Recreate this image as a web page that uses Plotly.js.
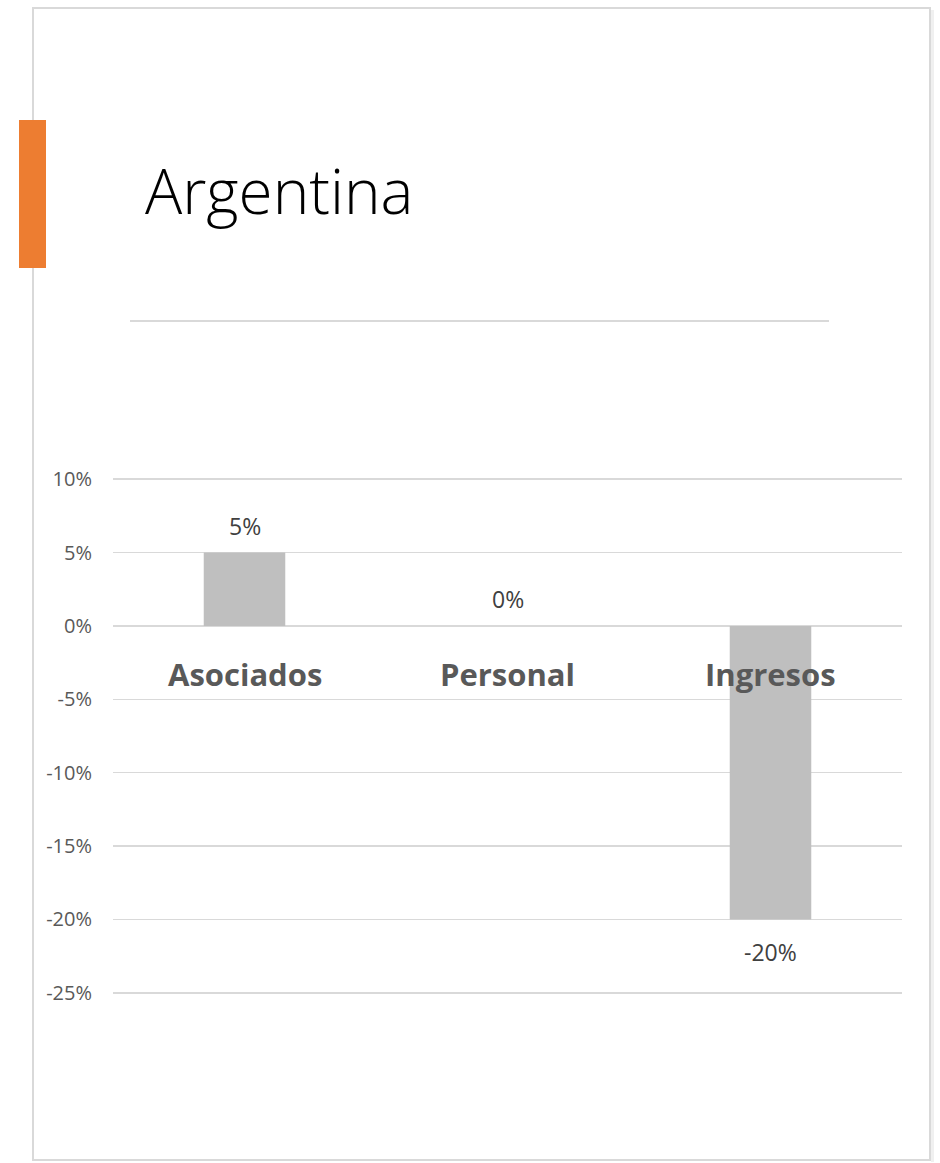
<!DOCTYPE html>
<html>
<head>
<meta charset="utf-8">
<script src="https://cdn.plot.ly/plotly-3.0.1.min.js"></script>
<style>
  html, body { margin: 0; padding: 0; background: #fff; }
  #chart { width: 940px; height: 1163px; }
</style>
</head>
<body>
<div id="chart"></div>
<script>
// chart data
var categories = ["Asociados", "Personal", "Ingresos"];
var changes = [0.05, 0.0, -0.2];
var labels = ["5%", "0%", "-20%"];
var tickVals = [0.1, 0.05, 0, -0.05, -0.1, -0.15, -0.2, -0.25];
var tickText = ["10%", "5%", "0%", "-5%", "-10%", "-15%", "-20%", "-25%"];

// plot area in pixels, used to place the slide decorations
var L = 113, R = 902, T = 478, B = 994;
function px(x) { return (x - L) / (R - L); }
function py(y) { return (B - y) / (B - T); }

var shapes = [
  // slide frame
  { type: "rect", xref: "paper", yref: "paper",
    x0: px(33), x1: px(930), y0: py(8), y1: py(1160),
    line: { color: "#d9d9d9", width: 2 }, layer: "below" },
  // faint shadow right / bottom
  { type: "line", xref: "paper", yref: "paper",
    x0: px(932.5), x1: px(932.5), y0: py(10), y1: py(1162),
    line: { color: "#f0f0f0", width: 3 }, layer: "below" },
  // orange accent
  { type: "rect", xref: "paper", yref: "paper",
    x0: px(19), x1: px(46), y0: py(120), y1: py(268),
    fillcolor: "#ed7d31", line: { width: 0 } },
  // rule under title
  { type: "line", xref: "paper", yref: "paper",
    x0: px(130), x1: px(829), y0: py(321), y1: py(321),
    line: { color: "#d9d9d9", width: 2 } }
];

var annotations = [];
for (var i = 0; i < categories.length; i++) {
  annotations.push({
    x: categories[i], y: 0, xref: "x", yref: "y",
    text: "<b>" + categories[i] + "</b>", showarrow: false,
    yanchor: "middle", yshift: -48,
    font: { family: "Open Sans", size: 31, color: "#595959" }
  });
  annotations.push({
    x: categories[i], y: changes[i], xref: "x", yref: "y",
    text: labels[i], showarrow: false,
    yanchor: "middle", yshift: changes[i] >= 0 ? 27 : -33,
    font: { family: "Open Sans", size: 23, color: "#404040" }
  });
}

Plotly.newPlot(
  "chart",
  [
    {
      type: "bar",
      x: categories,
      y: changes,
      width: 0.31,
      marker: { color: "#bfbfbf" },
      hoverinfo: "none"
    }
  ],
  {
    width: 940,
    height: 1163,
    margin: { l: L, r: 940 - R, t: T, b: 1163 - B, pad: 0 },
    paper_bgcolor: "#ffffff",
    plot_bgcolor: "#ffffff",
    showlegend: false,
    title: {
      text: "Argentina",
      xref: "container", yref: "container",
      x: 145 / 940, xanchor: "left",
      y: 1 - 192 / 1163, yanchor: "middle",
      font: { family: "Open Sans", size: 62, color: "#000000", weight: 300 }
    },
    xaxis: {
      showticklabels: false,
      showgrid: false,
      zeroline: false,
      fixedrange: true
    },
    yaxis: {
      range: [-0.2508, 0.1008],
      tickvals: tickVals,
      ticktext: tickText,
      ticks: "",
      ticklabelstandoff: 20,
      tickfont: { family: "Open Sans", size: 20, color: "#595959" },
      showgrid: true,
      gridcolor: "#d9d9d9",
      gridwidth: 1.5,
      zeroline: true,
      zerolinecolor: "#d9d9d9",
      zerolinewidth: 1.5,
      fixedrange: true
    },
    shapes: shapes,
    annotations: annotations
  },
  { displayModeBar: false, staticPlot: true }
);
</script>
</body>
</html>
